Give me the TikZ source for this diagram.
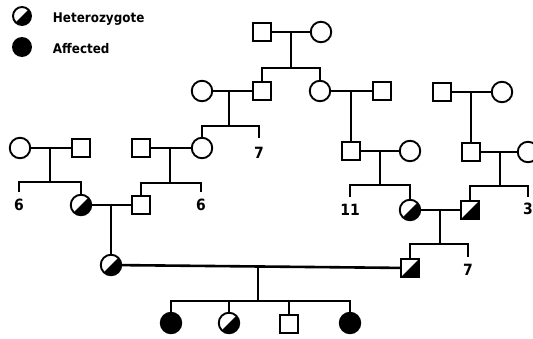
\documentclass[tikz,border=0pt]{standalone}
\usepackage{fontspec}
\setmainfont{DejaVu Sans}
\newfontfamily\labfont{DejaVu Sans Condensed Bold}
\begin{document}
\begin{tikzpicture}[x=1pt,y=-1pt,line width=1.9pt,
  male/.style={draw,rectangle,minimum size=18.5pt,inner sep=0pt,line width=1.9pt},
  female/.style={draw,circle,minimum size=20.5pt,inner sep=0pt,line width=1.9pt},
  het/.style={path picture={\fill (path picture bounding box.south west) -- (path picture bounding box.south east) -- (path picture bounding box.north east) -- cycle;}},
  aff/.style={fill=black},
  num/.style={inner sep=0pt,anchor=north,font=\labfont\fontsize{15.5}{17}\selectfont},
  legtext/.style={inner sep=0pt,anchor=base west,font=\labfont\fontsize{13.3}{15}\selectfont},
  thickline/.style={line width=2.6pt}]
\useasboundingbox (0,0) rectangle (533,338);
\clip (0,0) rectangle (533,338);
% legend
\node[female,het,minimum size=18pt] (lh) at (22,16) {};
\node[legtext] (lht) at (52,22) {Heterozygote};
\node[female,aff,minimum size=18pt] (la) at (22,47) {};
\node[legtext] (lat) at (52,53) {Affected};
% generation I
\node[male] (a1) at (262,32) {};
\node[female] (a2) at (321,32) {};
\draw (a1) -- (a2);
\coordinate (m1) at (291,32);
\coordinate (j1) at (291,68);
\draw (m1) -- (j1);
\node[male] (b1) at (262,91) {};
\node[female] (b2) at (320,91) {};
\draw (b1.north) |- (j1) -| (b2.north);
% generation II left couple
\node[female] (b3) at (202,91) {};
\draw (b3) -- (b1);
\coordinate (m2) at (229,91);
\coordinate (j2) at (229,126);
\draw (m2) -- (j2);
\node[female] (c4) at (202,148) {};
\node[num] (n7a) at (259,146) {7};
\draw (c4.north) |- (j2) -| ([yshift=8pt]n7a.north);
% generation II right couple
\node[male] (b4) at (382,91) {};
\draw (b2) -- (b4);
\node[male] (c5) at (351,151) {};
\draw (c5.north) -- (c5.north |- b4);
% far right couple
\node[male] (d1) at (442,92) {};
\node[female] (d2) at (502,92) {};
\draw (d1) -- (d2);
\node[male] (d3) at (471,152) {};
\draw (d3.north) -- (d3.north |- d1);
% generation III left
\node[female] (c1) at (20,148) {};
\node[male] (c2) at (81,148) {};
\draw (c1) -- (c2);
\coordinate (m5) at (50,148);
\coordinate (j5) at (50,182);
\draw (m5) -- (j5);
\node[num] (n6a) at (19,198) {6};
\node[female,het] (e1) at (81,205) {};
\draw ([yshift=6pt]n6a.north) |- (j5) -| (e1.north);
% generation III middle
\node[male] (c3) at (141,148) {};
\draw (c3) -- (c4);
\coordinate (m6) at (170,148);
\coordinate (j6) at (170,183);
\draw (m6) -- (j6);
\node[male] (e2) at (141,205) {};
\node[num] (n6b) at (201,198) {6};
\draw (e2.north) |- (j6) -| ([yshift=6pt]n6b.north);
% generation III right
\node[female] (c6) at (410,151) {};
\draw (c5) -- (c6);
\coordinate (m7) at (380,151);
\coordinate (j7) at (380,185);
\draw (m7) -- (j7);
\node[num] (n11) at (350,203) {11};
\node[female,het] (e3) at (410,210) {};
\draw ([yshift=6pt]n11.north) |- (j7) -| (e3.north);
% far right generation III
\node[female] (d4) at (528,152) {};
\draw (d3) -- (d4);
\coordinate (m8) at (500,152);
\coordinate (j8) at (500,186);
\draw (m8) -- (j8);
\node[male,het] (e4) at (470,210) {};
\node[num] (n3) at (528,202) {3};
\draw (e4.north) |- (j8) -| ([yshift=5pt]n3.north);
% generation IV
\draw (e1) -- (e2);
\node[female,het] (f1) at (111,265) {};
\draw (f1.north) -- (f1.north |- e2);
\draw (e3) -- (e4);
\coordinate (m10) at (440,210);
\coordinate (j10) at (440,244);
\draw (m10) -- (j10);
\node[male,het] (f2) at (410,268) {};
\node[num] (n7b) at (468,263) {7};
\draw (f2.north) |- (j10) -| ([yshift=6pt]n7b.north);
% generation V
\draw[thickline] (f1) -- (f2);
\coordinate (m11) at (258,266.5);
\coordinate (j11) at (258,301);
\draw (m11) -- (j11);
\node[female,aff] (g1) at (171,323) {};
\node[female,het] (g2) at (229,323) {};
\node[male] (g3) at (289,324) {};
\node[female,aff] (g4) at (350,323) {};
\draw (g1.north) |- (j11) -| (g4.north);
\draw (g2.north) -- (g2.north |- j11);
\draw (g3.north) -- (g3.north |- j11);
\end{tikzpicture}
\end{document}
